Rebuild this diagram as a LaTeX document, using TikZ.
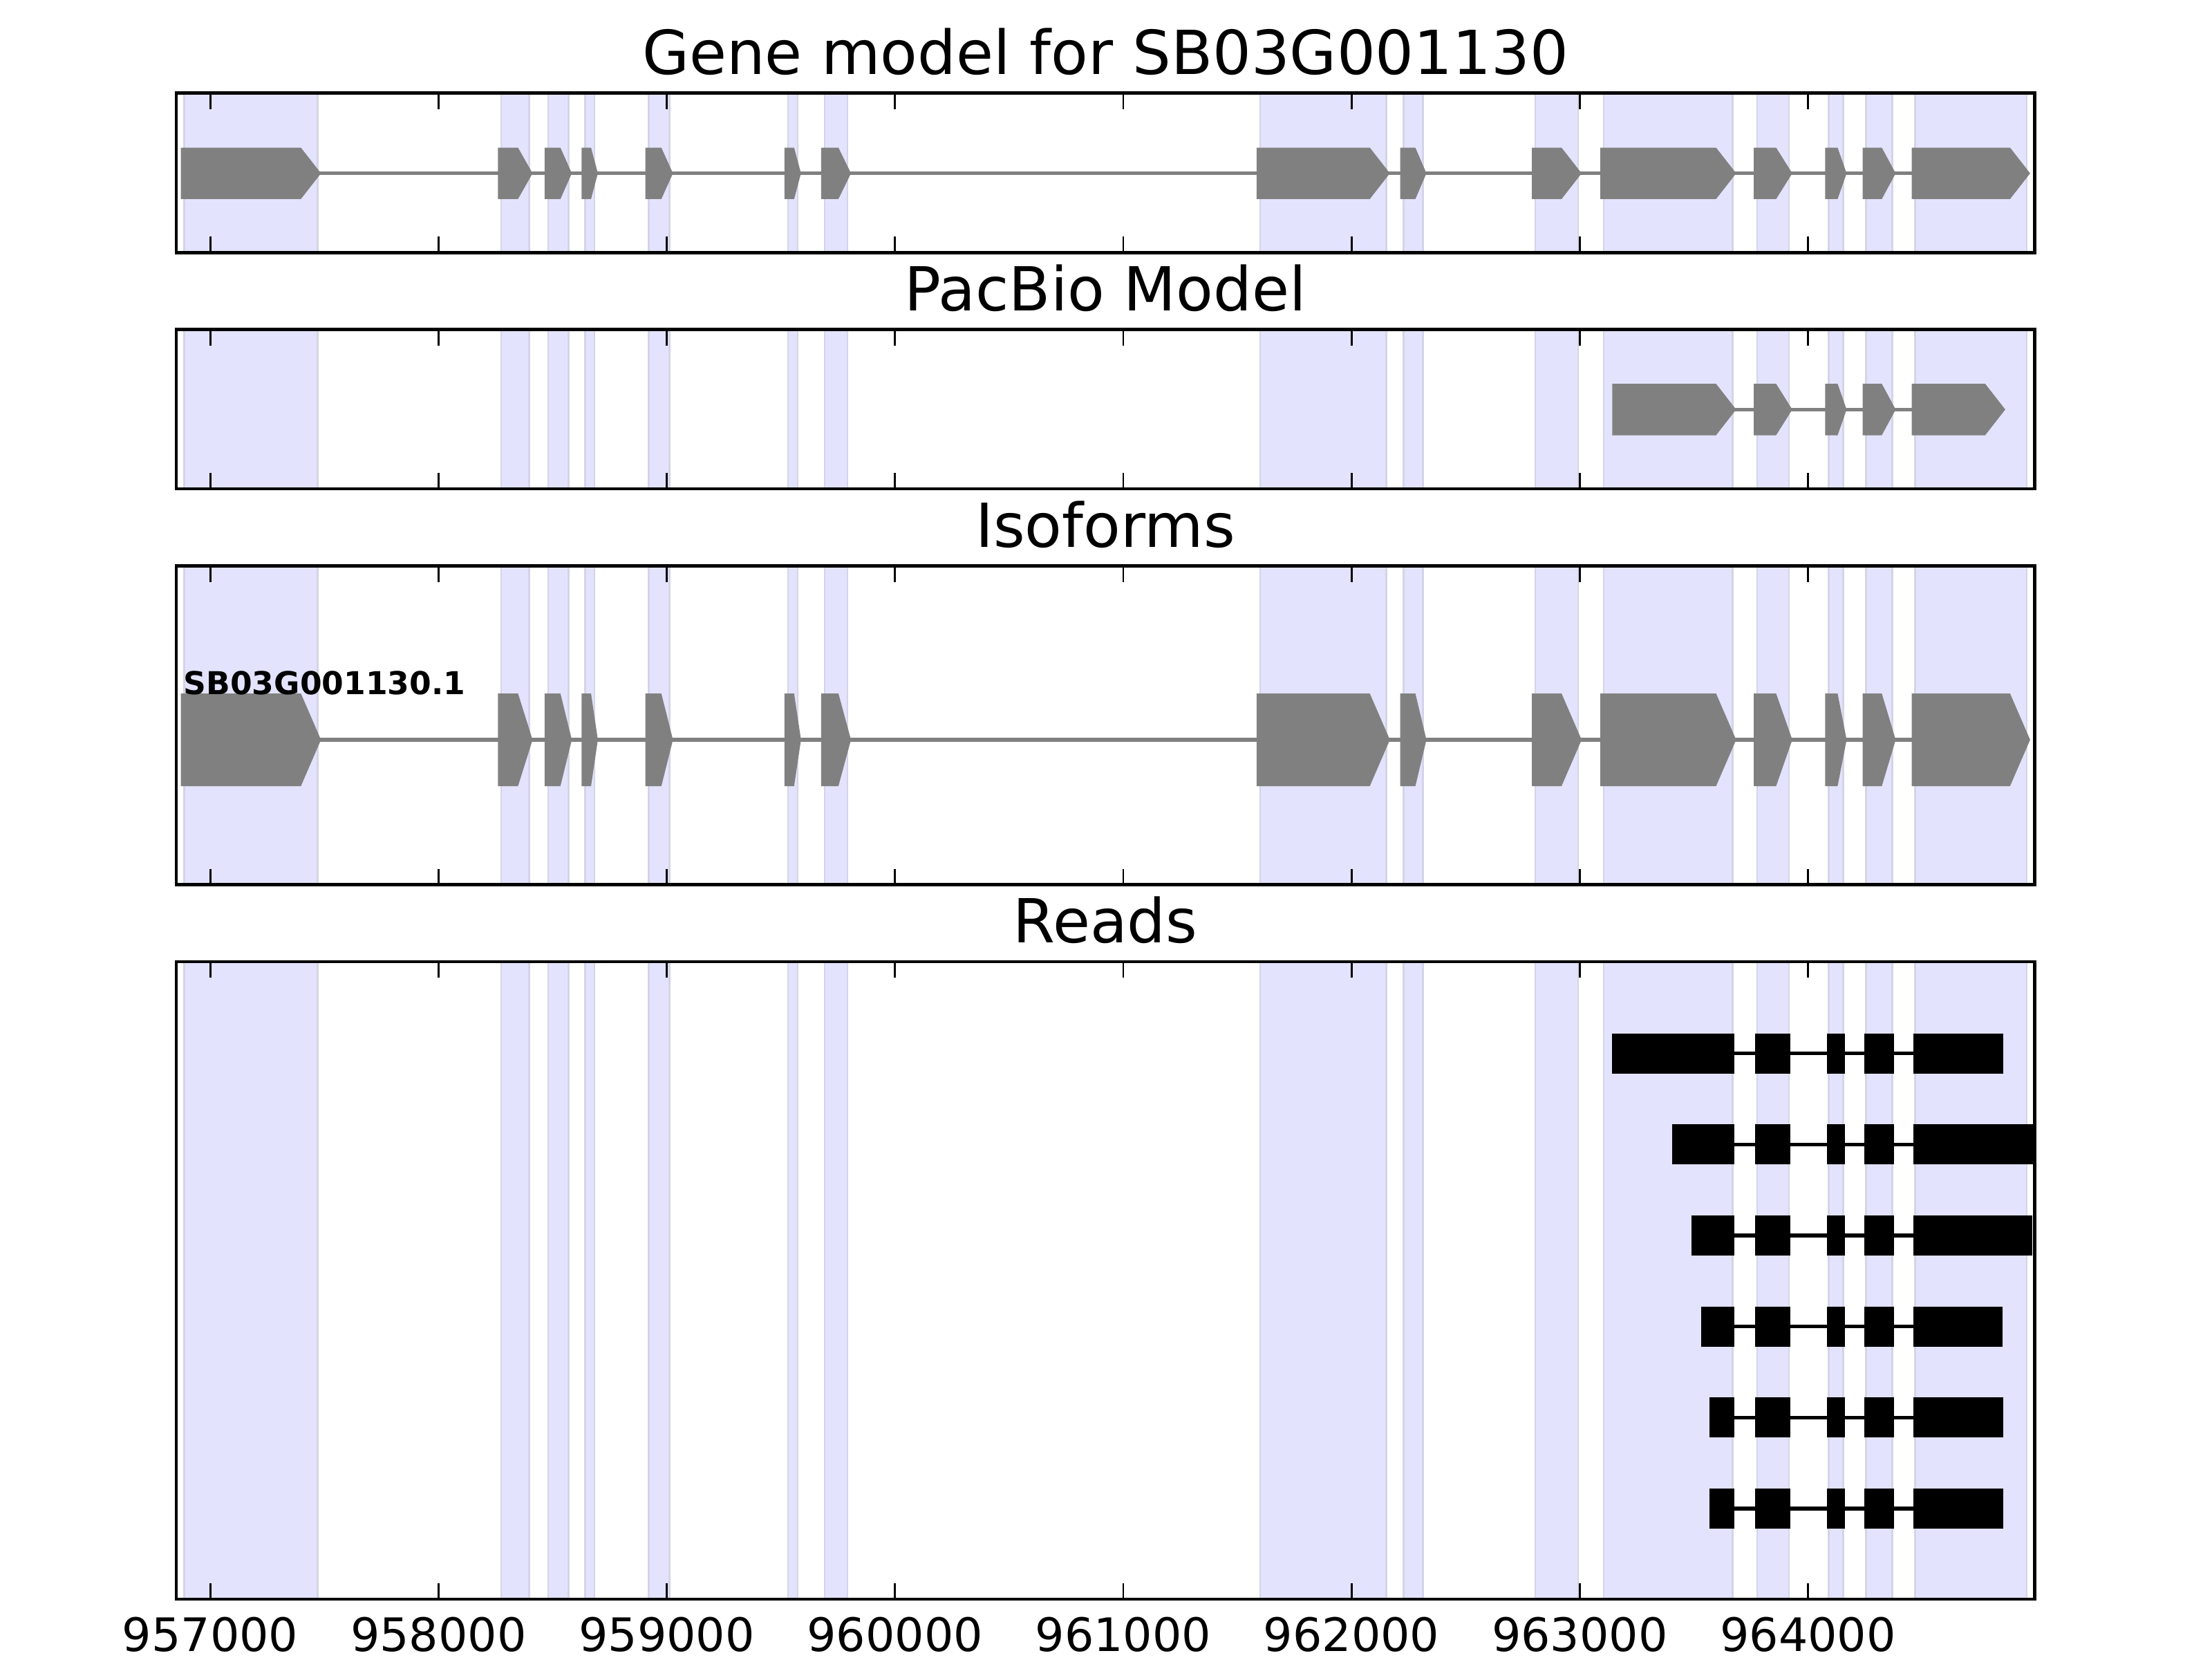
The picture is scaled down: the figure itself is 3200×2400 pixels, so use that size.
\documentclass[tikz,border=0pt]{standalone}
\usepackage{fontspec}
\setmainfont{DejaVu Sans}
\usetikzlibrary{calc}

\definecolor{exongray}{HTML}{808080}
\definecolor{spanfill}{HTML}{E3E3FD}
\definecolor{spanedge}{HTML}{D4D4E8}

% exons of the gene model, bp from 957000
\newcommand{\geneexons}{-114/470, 1275/1397, 1480/1569, 1642/1683, 1921/2012, 2531/2573, 2691/2792, 4599/5153, 5228/5313, 5805/5993, 6105/6670, 6777/6916, 7090/7154, 7254/7369, 7469/7958}
\newcommand{\pacbioexons}{6157/6670, 6777/6916, 7090/7154, 7254/7369, 7469/7849}
% panels: top/bottom in px
\newcommand{\panels}{134.5/365.3, 476.5/707, 818.5/1279.5, 1391/2313}

% arrow shaped exon: start, end (bp), centre y, half height
\newcommand{\exonarrow}[4]{%
  \pgfmathsetmacro\xa{#1-15}%
  \pgfmathsetmacro\xt{#2+15}%
  \pgfmathsetmacro\xn{\xt-min(88,0.42*(\xt-\xa))}%
  \fill[exon] (\xa,#3-#4) -- (\xn,#3-#4) -- (\xt,#3) -- (\xn,#3+#4) -- (\xa,#3+#4) -- cycle;}

\begin{document}
\begin{tikzpicture}[
    x=0.18pt, y=-0.18pt,
    frame/.style={draw=black, line width=0.85pt},
    tickmark/.style={draw=black, line width=0.5pt},
    span/.style={fill=spanfill, draw=spanedge, line width=0.45pt},
    exon/.style={fill=exongray},
    intron/.style={draw=exongray, line width=1pt},
    readbox/.style={fill=black, draw=black, line width=0.9pt},
    readline/.style={draw=black, line width=0.95pt},
    ttl/.style={font=\fontsize{15.8}{19}\selectfont, anchor=base, inner sep=0},
    ticklbl/.style={font=\fontsize{12}{14}\selectfont, anchor=base, inner sep=0},
    isolbl/.style={font=\bfseries\fontsize{8.2}{10}\selectfont, anchor=base west, inner sep=0}
]
\useasboundingbox (0,0) rectangle (3200,2400);

% genome axis: bp from 957000
\begin{scope}[shift={(304.2,0)}, x=0.059429pt]

% exon spans in every panel
\foreach \top/\bot in \panels {
  \foreach \s/\e in \geneexons
    \filldraw[span] (\s,\top) rectangle (\e,\bot);
}

% Gene model
\draw[intron] (-114,250.7) -- (7958,250.7);
\foreach \s/\e in \geneexons
  \exonarrow{\s}{\e}{250.7}{37.2};

% PacBio model
\draw[intron] (6157,592.3) -- (7849,592.3);
\foreach \s/\e in \pacbioexons
  \exonarrow{\s}{\e}{592.3}{37.2};

% Isoforms
\draw[intron] (-114,1070) -- (7958,1070);
\foreach \s/\e in \geneexons
  \exonarrow{\s}{\e}{1070}{67};
\node[isolbl] (iso-name) at (-120,1004) {SB03G001130.1};

% Reads
\begin{scope}
\clip (-149,1391) rectangle (7992,2313);
\foreach \rs/\re [count=\i from 0] in {6149/7848, 6413/8050, 6498/7974, 6540/7844, 6575/7848, 6575/7848} {
  \pgfmathsetmacro\ry{1523.5+131.7*\i}
  \draw[readline] (\rs,\ry) -- (\re,\ry);
  \foreach \bs/\be in {\rs/6670, 6777/6916, 7090/7154, 7254/7369, 7469/\re}
    \filldraw[readbox] (\bs,\ry-26.5) rectangle (\be,\ry+26.5);
}
\end{scope}

% frames and ticks
\foreach \top/\bot in \panels {
  \foreach \k in {0,...,7} {
    \draw[tickmark] (\k*1000,\top) -- ++(0,23);
    \draw[tickmark] (\k*1000,\bot) -- ++(0,-23);
  }
  \draw[frame] (-149,\top) rectangle (7992,\bot);
}

% titles
\node[ttl] (ttl-gene) at (3921.5,107) {Gene model for SB03G001130};
\node[ttl] (ttl-pacbio) at (3921.5,449) {PacBio Model};
\node[ttl] (ttl-iso) at (3921.5,791) {Isoforms};
\node[ttl] (ttl-reads) at (3921.5,1363.5) {Reads};

% tick labels
\foreach \k in {0,...,7}
  \node[ticklbl] (lbl-\k) at (\k*1000,2388.3) {\the\numexpr957000+\k*1000\relax};

\end{scope}
\end{tikzpicture}
\end{document}
